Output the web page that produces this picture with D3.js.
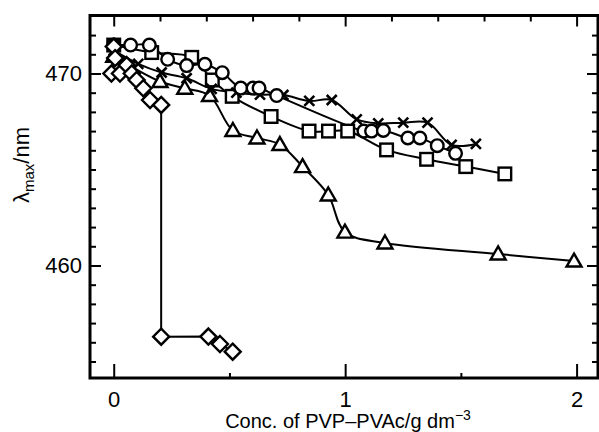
<!DOCTYPE html>
<html><head><meta charset="utf-8">
<script src="https://cdn.jsdelivr.net/npm/d3@7"></script>
<style>body{margin:0;background:#fff}svg{display:block}</style>
</head><body>
<svg id="c" width="599" height="432"></svg>
<script>
// Data (conc. g dm^-3, lambda_max nm)
const circleX = [0, 0.073, 0.154, 0.233, 0.315, 0.394, 0.469, 0.549, 0.602, 0.628, 0.704, 1.081, 1.114, 1.165, 1.271, 1.323, 1.398, 1.477];
const circleY = [471.48, 471.48, 471.48, 470.74, 470.41, 470.48, 470.04, 469.24, 469.24, 469.24, 468.85, 467.0, 467.0, 467.03, 466.64, 466.64, 466.24, 465.84];
const squareX = [0, 0.164, 0.337, 0.426, 0.512, 0.680, 0.844, 0.928, 1.011, 1.179, 1.352, 1.521, 1.690];
const squareY = [471.48, 471.09, 470.84, 469.66, 468.81, 467.76, 467.0, 467.0, 467.0, 466.02, 465.53, 465.15, 464.77];
const crossX = [0, 0.106, 0.207, 0.315, 0.423, 0.53, 0.632, 0.733, 0.845, 0.942, 1.05, 1.143, 1.251, 1.356, 1.46, 1.565];
const crossY = [471.2, 470.5, 470.05, 469.75, 469.2, 469.0, 468.9, 468.88, 468.57, 468.62, 467.61, 467.4, 467.44, 467.44, 466.28, 466.33];
const triX = [0, 0.2, 0.307, 0.414, 0.515, 0.619, 0.718, 0.816, 0.927, 0.999, 1.172, 1.661, 1.989];
const triY = [470.9, 469.58, 469.23, 468.85, 467.03, 466.64, 466.3, 465.15, 463.67, 461.74, 461.17, 460.6, 460.23];
const diamX = [0, 0.006, -0.01, 0.027, 0.056, 0.078, 0.099, 0.128, 0.157, 0.205, 0.205, 0.409, 0.459, 0.514];
const diamY = [471.4, 470.8, 470.0, 470.0, 470.44, 470.0, 469.66, 469.23, 468.62, 468.36, 456.29, 456.3, 455.91, 455.51];

const yMajor = [460, 470];
const yMinor = [455,456,457,458,459,461,462,463,464,465,466,467,468,469,471,472];
const xBottomMajor = [0, 1, 2];
const xBottomMinor = [0.5, 1.5];
const xTopMajor = [0, 1, 2];
const xTopMinor = [0.2,0.4,0.6,0.8,1.2,1.4,1.6,1.8];

const svg = d3.select("#c");
const L = 90, R = 598, T = 15.5, B = 378;
const x = d3.scaleLinear().domain([-0.1025, 2.0925]).range([L, R]);
const y = d3.scaleLinear().domain([454.14, 473.02]).range([B, T]);
const FONT = "'Liberation Sans', Arial, sans-serif";

function axis(gen, tx, ty, vals, size, pad, fmt) {
  const g = svg.append("g").attr("transform", `translate(${tx},${ty})`)
    .call(gen.tickValues(vals).tickSize(size).tickPadding(pad).tickFormat(fmt));
  g.select(".domain").remove();
  g.selectAll("line").attr("stroke", "#000").attr("stroke-width", 2);
  g.selectAll("text").attr("font-family", FONT).attr("font-size", 22).attr("fill", "#000");
  return g;
}
const none = () => "";
axis(d3.axisLeft(y), L, 0, yMajor, -11, 8, d3.format("d"));
axis(d3.axisLeft(y), L, 0, yMinor, -6, 8, none);
axis(d3.axisRight(y), R, 0, yMajor, -11, 8, none);
axis(d3.axisRight(y), R, 0, yMinor, -6, 8, none);
axis(d3.axisBottom(x), 0, B, xBottomMajor, -14, 13, d3.format("d"));
axis(d3.axisBottom(x), 0, B, xBottomMinor, -5, 13, none);
axis(d3.axisTop(x), 0, T, xTopMajor, -11, 8, none);
axis(d3.axisTop(x), 0, T, xTopMinor, -6, 8, none);

svg.append("rect").attr("x", L).attr("y", T).attr("width", R - L).attr("height", B - T)
  .attr("fill", "none").attr("stroke", "#000").attr("stroke-width", 3);

function pts(xs, ys) { return xs.map((v, i) => [v, ys[i]]); }
const series = [
  {d: pts(triX, triY), m: "tri", curve: d3.curveCatmullRom},
  {d: pts(squareX, squareY), m: "sq", curve: d3.curveCatmullRom},
  {d: pts(crossX, crossY), m: "x", curve: d3.curveCatmullRom},
  {d: pts(circleX, circleY), m: "c", curve: d3.curveCatmullRom},
  {d: pts(diamX, diamY), m: "dia", curve: d3.curveLinear}
];
const plot = svg.append("g");
series.forEach(s => {
  plot.append("path").datum(s.d)
    .attr("d", d3.line().x(d => x(d[0])).y(d => y(d[1])).curve(s.curve))
    .attr("fill", "none").attr("stroke", "#000").attr("stroke-width", 2);
});
series.forEach(s => {
  s.d.forEach(d => {
    const cx = x(d[0]), cy = y(d[1]);
    const st = {fill: "#fff", stroke: "#000", "stroke-width": 2.4};
    let e;
    if (s.m === "c") e = plot.append("circle").attr("cx", cx).attr("cy", cy).attr("r", 6.3);
    else if (s.m === "sq") e = plot.append("rect").attr("x", cx - 6.3).attr("y", cy - 6.3).attr("width", 12.6).attr("height", 12.6);
    else if (s.m === "tri") e = plot.append("path").attr("d", `M${cx},${cy-7.5}L${cx+7.5},${cy+5.5}L${cx-7.5},${cy+5.5}Z`);
    else if (s.m === "dia") e = plot.append("path").attr("d", `M${cx},${cy-8}L${cx+8},${cy}L${cx},${cy+8}L${cx-8},${cy}Z`);
    else {
      e = plot.append("path").attr("d", `M${cx-5},${cy-5}L${cx+5},${cy+5}M${cx+5},${cy-5}L${cx-5},${cy+5}`);
      st.fill = "none"; st["stroke-width"] = 2.6;
    }
    Object.entries(st).forEach(([k, v]) => e.attr(k, v));
  });
});

// Axis titles
const xt = svg.append("text").attr("x", 348).attr("y", 428).attr("text-anchor", "middle")
  .attr("font-family", FONT).attr("font-size", 20).attr("fill", "#000");
xt.append("tspan").text("Conc. of PVP–PVAc/g dm");
xt.append("tspan").attr("dy", -8).attr("font-size", 14).text("−3");

const yt = svg.append("text").attr("transform", "translate(29,165) rotate(-90)")
  .attr("text-anchor", "middle").attr("font-family", FONT).attr("font-size", 22).attr("fill", "#000");
yt.append("tspan").text("λ");
yt.append("tspan").attr("dy", 5).attr("font-size", 15).text("max");
yt.append("tspan").attr("dy", -5).text("/nm");
</script>
</body></html>
